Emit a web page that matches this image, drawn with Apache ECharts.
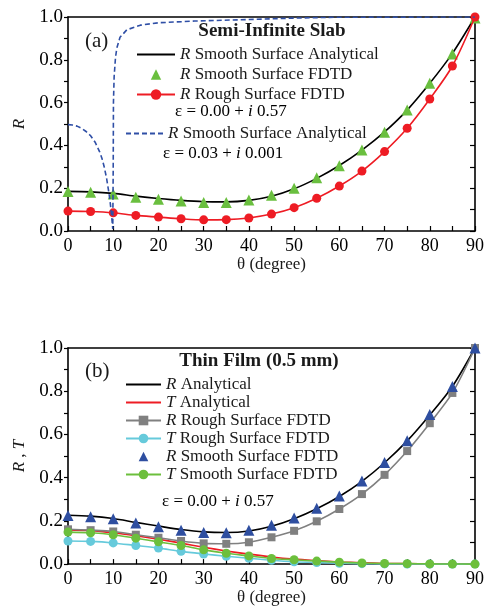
<!DOCTYPE html>
<html>
<head>
<meta charset="utf-8">
<script src="https://cdn.jsdelivr.net/npm/echarts@6/dist/echarts.min.js"></script>
<style>
html,body{margin:0;padding:0;background:#fff;}
#chart{width:494px;height:607px;}
</style>
</head>
<body>
<div id="chart"></div>
<script>
// ---------- data ----------
var theta = [0,5,10,15,20,25,30,35,40,45,50,55,60,65,70,75,80,85,90];
var xTicks = [0,10,20,30,40,50,60,70,80,90];
var yTicks = [0.0,0.2,0.4,0.6,0.8,1.0];

// (a) Semi-infinite slab
var slabRSmoothAnalytical = [0.185,0.183,0.176,0.163,0.152,0.143,0.137,0.136,0.143,0.162,0.197,0.246,0.306,0.378,0.463,0.565,0.69,0.83,1.0];
var slabRSmoothFDTD       = [0.184,0.181,0.173,0.158,0.148,0.140,0.133,0.133,0.145,0.167,0.200,0.249,0.305,0.378,0.461,0.565,0.69,0.827,0.995];
var slabRRoughFDTD        = [0.093,0.091,0.085,0.073,0.065,0.057,0.052,0.053,0.061,0.079,0.109,0.153,0.21,0.28,0.371,0.48,0.617,0.771,1.0];
var lowEpsTheta = [0,1,2,3,4,5,6,7,7.5,8,8.5,9,9.3,9.6,9.8,9.9,10.0,10.05,10.2,10.5,10.8,11.5,13,16,20,28,38,50,60,90];
var lowEpsR     = [0.497,0.495,0.49,0.48,0.465,0.445,0.415,0.37,0.34,0.30,0.25,0.185,0.14,0.08,0.035,0.01,0.3,0.6,0.72,0.81,0.855,0.905,0.94,0.962,0.973,0.981,0.987,0.995,0.999,1.0];

// (b) Thin film
var filmRAnalytical = [0.226,0.222,0.211,0.193,0.176,0.16,0.149,0.146,0.153,0.175,0.21,0.256,0.313,0.383,0.469,0.57,0.69,0.822,1.0];
var filmTAnalytical = [0.158,0.155,0.145,0.131,0.115,0.097,0.078,0.061,0.046,0.033,0.023,0.016,0.01,0.006,0.003,0.002,0.001,0.0005,0];
var filmRRough      = [0.161,0.157,0.151,0.136,0.122,0.107,0.096,0.094,0.101,0.124,0.154,0.198,0.255,0.324,0.413,0.523,0.652,0.792,1.0];
var filmTRough      = [0.107,0.105,0.098,0.086,0.074,0.059,0.047,0.036,0.027,0.018,0.011,0.007,0.004,0.002,0.001,0.0005,0,0,0];
var filmRSmooth     = [0.225,0.219,0.21,0.19,0.173,0.157,0.146,0.145,0.157,0.18,0.213,0.258,0.315,0.385,0.47,0.571,0.692,0.822,1.0];
var filmTSmooth     = [0.148,0.145,0.136,0.12,0.103,0.086,0.066,0.05,0.038,0.026,0.02,0.014,0.009,0.005,0.003,0.002,0.001,0.0005,0];

// ---------- helpers ----------
function pairs(xs, ys){ return xs.map(function(x,i){ return [x, ys[i]]; }); }
var SERIF = 'Liberation Serif';
var TXT = '#1a1a1a';
var richI = {
  i:{fontFamily:SERIF, fontStyle:'italic', fontSize:17, color:TXT, lineHeight:17},
  n:{fontFamily:SERIF, fontSize:17, color:TXT, lineHeight:17}
};
var richIb = {
  i:{fontFamily:SERIF, fontStyle:'italic', fontSize:17, color:TXT, lineHeight:15},
  n:{fontFamily:SERIF, fontSize:17, color:TXT, lineHeight:15}
};
function legendFmt(name){
  var s = name.replace(/ \(.*\)$/, '');
  return '{i|' + s.charAt(0) + '}{n|' + s.slice(1) + '}';
}
function lineOnly(name){ return {name:name, itemStyle:{opacity:0}}; }

function xAxes(gi){
  return [{
    gridIndex: gi, type:'value', min:0, max:90, interval:10,
    axisLine:{show:true, onZero:false, lineStyle:{color:'#000', width:1.6}},
    axisTick:{show:true, inside:true, length:5, lineStyle:{color:'#000', width:1.2}},
    minorTick:{show:true, splitNumber:2, length:5, lineStyle:{color:'#000', width:1.2}},
    splitLine:{show:false},
    axisLabel:{fontFamily:SERIF, fontSize:18, color:'#000', margin:6},
    name:'θ (degree)', nameLocation:'middle', nameGap:22,
    nameTextStyle:{fontFamily:SERIF, fontSize:17, color:TXT}
  },{
    gridIndex: gi, type:'value', min:0, max:90, position:'top',
    axisLine:{show:true, onZero:false, lineStyle:{color:'#000', width:1.6}},
    axisTick:{show:false}, axisLabel:{show:false}, splitLine:{show:false}
  }];
}
function yAxes(gi, nameRich){
  return [{
    gridIndex: gi, type:'value', min:0, max:1, interval:0.2,
    axisLine:{show:true, onZero:false, lineStyle:{color:'#000', width:1.6}},
    axisTick:{show:true, inside:false, length:4, lineStyle:{color:'#000', width:1.2}},
    minorTick:{show:true, splitNumber:2, length:4, lineStyle:{color:'#000', width:1.2}},
    splitLine:{show:false},
    axisLabel:{fontFamily:SERIF, fontSize:19, color:'#000', margin:5, formatter:function(v){return v.toFixed(1);}},
    name:nameRich, nameLocation:'middle', nameGap:40, nameRotate:90,
    nameTextStyle:{fontFamily:SERIF, fontSize:17, color:TXT, rich:{i:{fontFamily:SERIF, fontStyle:'italic', fontSize:17, color:TXT}}}
  },{
    gridIndex: gi, type:'value', min:0, max:1, interval:0.2, position:'right',
    axisLine:{show:true, onZero:false, lineStyle:{color:'#000', width:1.6}},
    axisTick:{show:true, inside:true, length:5, lineStyle:{color:'#000', width:1.2}},
    minorTick:{show:true, splitNumber:2, length:5, lineStyle:{color:'#000', width:1.2}},
    axisLabel:{show:false}, splitLine:{show:false}
  }];
}

var C = {
  black:'#000000', green:'#6abf3f', red:'#ee1c24', blue:'#2f4fa6',
  gray:'#808080', cyan:'#66cadb', green2:'#6cbf3c', blue2:'#2e4ea0'
};

var option = {
  animation:false,
  backgroundColor:'#fff',
  grid:[
    {left:68, top:17, width:407, height:214},
    {left:68, top:348, width:407, height:221}
  ],
  xAxis: xAxes(0).concat(xAxes(1)),
  yAxis: yAxes(0, '{i|R}').concat(yAxes(1, '{i|R} , {i|T}')),
  legend:[
    {
      orient:'vertical', left:131, top:41, itemWidth:38, itemHeight:13, itemGap:3,
      selectedMode:false, formatter:legendFmt,
      textStyle:{fontFamily:SERIF, fontSize:17, color:TXT, lineHeight:17, rich:richI},
      data:[lineOnly('R Smooth Surface Analytical'),'R Smooth Surface FDTD','R Rough Surface FDTD']
    },
    {
      orient:'vertical', left:120, top:120, itemWidth:37, itemHeight:12, itemGap:3,
      selectedMode:false, formatter:legendFmt,
      textStyle:{fontFamily:SERIF, fontSize:17, color:TXT, lineHeight:17, rich:richI},
      data:[lineOnly('R Smooth Surface Analytical (ε = 0.03 + i 0.001)')]
    },
    {
      orient:'vertical', left:120, top:371, itemWidth:35, itemHeight:12, itemGap:1,
      selectedMode:false, formatter:legendFmt,
      textStyle:{fontFamily:SERIF, fontSize:17, color:TXT, lineHeight:15, rich:richIb},
      data:[lineOnly('R Analytical'),lineOnly('T Analytical'),'R Rough Surface FDTD (thin film)','T Rough Surface FDTD','R Smooth Surface FDTD (thin film)','T Smooth Surface FDTD']
    }
  ],
  graphic:[
    {type:'text', x:272, y:31, style:{text:'Semi-Infinite Slab', font:'bold 19px "Liberation Serif"', fill:TXT, align:'center', verticalAlign:'middle'}},
    {type:'text', left:85, top:31, style:{text:'(a)', font:'21px "Liberation Serif"', fill:TXT}},
    {type:'text', left:175, top:103, style:{text:'{n|ε = 0.00 + }{i|i}{n| 0.57}', rich:richI}},
    {type:'text', left:163, top:145, style:{text:'{n|ε = 0.03 + }{i|i}{n| 0.001}', rich:richI}},
    {type:'text', x:259, y:361, style:{text:'Thin Film (0.5 mm)', font:'bold 19px "Liberation Serif"', fill:TXT, align:'center', verticalAlign:'middle'}},
    {type:'text', left:85, top:361, style:{text:'(b)', font:'21px "Liberation Serif"', fill:TXT}},
    {type:'text', left:162, top:493, style:{text:'{n|ε = 0.00 + }{i|i}{n| 0.57}', rich:richI}}
  ],
  series:[
    // (a)
    {name:'R Smooth Surface Analytical', type:'line', xAxisIndex:0, yAxisIndex:0, smooth:0.3,
     data:pairs(theta, slabRSmoothAnalytical), symbol:'none', z:2,
     lineStyle:{color:C.black, width:1.6}, itemStyle:{color:C.black}},
    {name:'R Smooth Surface FDTD', type:'line', xAxisIndex:0, yAxisIndex:0,
     data:pairs(theta, slabRSmoothFDTD), symbol:'triangle', symbolSize:11, z:3,
     lineStyle:{opacity:0, width:1}, itemStyle:{color:C.green}},
    {name:'R Rough Surface FDTD', type:'line', xAxisIndex:0, yAxisIndex:0, smooth:0.3,
     data:pairs(theta, slabRRoughFDTD), symbol:'circle', symbolSize:9, z:4,
     lineStyle:{color:C.red, width:1.6}, itemStyle:{color:C.red}},
    {name:'R Smooth Surface Analytical (ε = 0.03 + i 0.001)', type:'line', xAxisIndex:0, yAxisIndex:0,
     data:pairs(lowEpsTheta, lowEpsR), symbol:'none', z:5,
     lineStyle:{color:C.blue, width:1.6, type:[5,3]}, itemStyle:{color:C.blue}},
    // (b)
    {name:'R Analytical', type:'line', xAxisIndex:2, yAxisIndex:2, smooth:0.3,
     data:pairs(theta, filmRAnalytical), symbol:'none', z:2,
     lineStyle:{color:C.black, width:1.6}, itemStyle:{color:C.black}},
    {name:'T Analytical', type:'line', xAxisIndex:2, yAxisIndex:2, smooth:0.3,
     data:pairs(theta, filmTAnalytical), symbol:'none', z:2,
     lineStyle:{color:C.red, width:1.6}, itemStyle:{color:C.red}},
    {name:'R Rough Surface FDTD (thin film)', type:'line', xAxisIndex:2, yAxisIndex:2, smooth:0.3,
     data:pairs(theta, filmRRough), symbol:'rect', symbolSize:8, z:3,
     lineStyle:{color:C.gray, width:1.6}, itemStyle:{color:C.gray}},
    {name:'T Rough Surface FDTD', type:'line', xAxisIndex:2, yAxisIndex:2, smooth:0.3,
     data:pairs(theta, filmTRough), symbol:'circle', symbolSize:9, z:3,
     lineStyle:{color:C.cyan, width:1.6}, itemStyle:{color:C.cyan}},
    {name:'R Smooth Surface FDTD (thin film)', type:'line', xAxisIndex:2, yAxisIndex:2,
     data:pairs(theta, filmRSmooth), symbol:'triangle', symbolSize:11, z:4,
     lineStyle:{opacity:0, width:1}, itemStyle:{color:C.blue2}},
    {name:'T Smooth Surface FDTD', type:'line', xAxisIndex:2, yAxisIndex:2, smooth:0.3,
     data:pairs(theta, filmTSmooth), symbol:'circle', symbolSize:9, z:5,
     lineStyle:{color:C.green2, width:1.6}, itemStyle:{color:C.green2}}
  ]
};
var chart = echarts.init(document.getElementById('chart'), null, {renderer:'canvas'});
chart.setOption(option);
</script>
</body>
</html>
